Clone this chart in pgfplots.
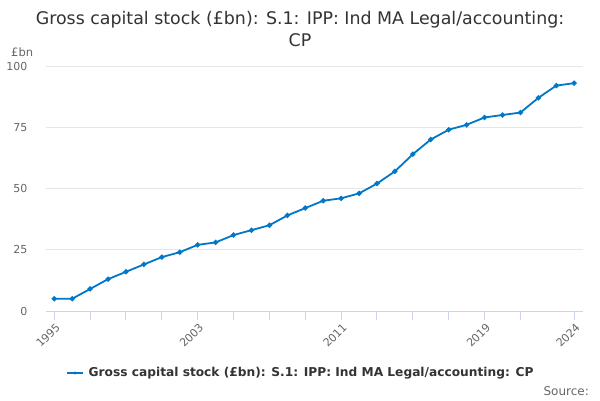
\documentclass[border=0pt]{standalone}
\usepackage{fontspec}
\setmainfont{DejaVu Sans}
\usepackage{pgfplots}
\pgfplotsset{compat=1.18}
\definecolor{linec}{RGB}{0,119,200}
\definecolor{gridc}{RGB}{230,230,230}
\definecolor{axisc}{RGB}{204,214,235}
\definecolor{labc}{RGB}{102,102,102}
\definecolor{titc}{RGB}{51,51,51}
\begin{document}
\begin{tikzpicture}
\useasboundingbox[fill=white] (0pt,0pt) rectangle (600pt,400pt);
\node[anchor=center,align=center,text=titc,font=\fontsize{17.4}{22}\selectfont] at (300pt,371pt) {Gross capital stock (£bn): S.1: IPP: Ind MA Legal/accounting:\\CP};
\node[anchor=base west,text=labc,font=\fontsize{11.5}{13}\selectfont,inner sep=0pt] at (11pt,344pt) {£bn};
\begin{axis}[
  at={(46pt,89pt)}, anchor=south west,
  width=537pt, height=245pt, scale only axis,
  xmin=1994.54, xmax=2024.49, ymin=0, ymax=100,
  axis x line*=bottom,
  axis y line*=left,
  x axis line style={draw=axisc, line width=1pt, -},
  y axis line style={draw=none},
  ytick={0,25,50,75,100},
  ymajorgrids, grid style={gridc, line width=0.8pt},
  xtick={1995,2003,2011,2019,2024},
  minor xtick={1997,1999,2001,2005,2007,2009,2013,2015,2017,2021},
  tick align=outside, major tick length=9pt, minor tick length=9pt,
  xtick style={draw=axisc, line width=1pt},
  minor x tick style={draw=axisc, line width=1pt},
  ytick style={draw=none},
  yticklabel style={xshift=-6pt},
  /pgf/number format/assume math mode=true,
  /pgf/number format/1000 sep={},
  tick label style={text=labc, font=\fontsize{11}{13}\selectfont},
  xticklabel style={rotate=45, anchor=north east, inner sep=1pt, yshift=-1pt},
  clip=false,
]
\addplot[linec, line width=1.8pt, mark=*, mark size=1.6pt, mark options={fill=linec, draw=linec}] coordinates {
(1995,5)(1996,5)(1997,9)(1998,13)(1999,16)(2000,19)(2001,22)(2002,24)(2003,27)(2004,28)
(2005,31)(2006,33)(2007,35)(2008,39)(2009,42)(2010,45)(2011,46)(2012,48)(2013,52)(2014,57)
(2015,64)(2016,70)(2017,74)(2018,76)(2019,79)(2020,80)(2021,81)(2022,87)(2023,92)(2024,93)
};
\end{axis}
\node[anchor=west, font=\fontsize{12.2}{14}\selectfont\bfseries, text=titc, inner sep=0pt] at (88.5pt,27pt) {Gross capital stock (£bn): S.1: IPP: Ind MA Legal/accounting: CP};
\draw[linec, line width=1.8pt] (67pt,27pt) -- (83pt,27pt);
\fill[linec] (75pt,27pt) circle (1.6pt);
\node[anchor=base east, text=labc, font=\fontsize{12}{14}\selectfont, inner sep=0pt] at (589pt,5pt) {Source:};
\end{tikzpicture}
\end{document}
